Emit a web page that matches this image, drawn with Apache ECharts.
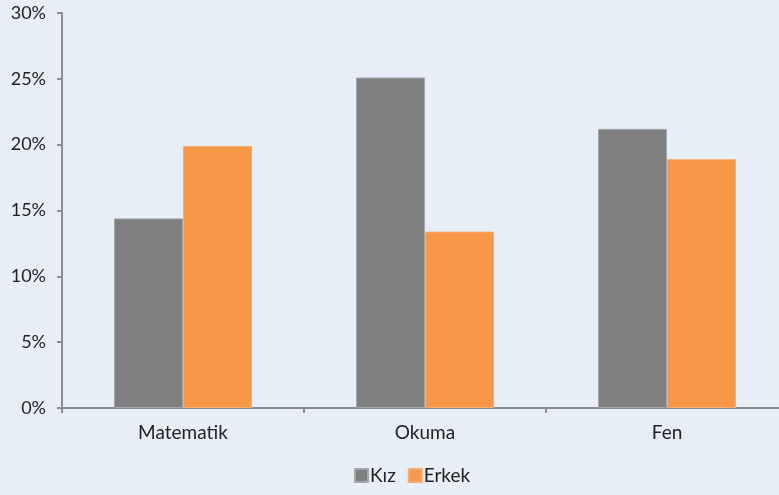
<!DOCTYPE html>
<html>
<head>
<meta charset="utf-8">
<script src="https://cdn.jsdelivr.net/npm/echarts@6/dist/echarts.min.js"></script>
<style>
  html, body { margin: 0; padding: 0; background: #e8eef6; }
  #main { width: 779px; height: 495px; }
</style>
</head>
<body>
<div id="main"></div>
<script>
var categories = ['Matematik', 'Okuma', 'Fen'];
var kiz = [14.4, 25.1, 21.2];
var erkek = [19.9, 13.4, 18.9];

var myChart = echarts.init(document.getElementById('main'));

var textFont = 'Lato, sans-serif';

var option = {
    backgroundColor: '#e8eef6',
    animation: false,
    grid: { left: 62, width: 726, top: 13, bottom: 87, outerBoundsMode: 'none' },
    legend: {
        bottom: 5,
        left: 349,
        itemWidth: 13,
        itemHeight: 13,
        itemGap: 12,
        icon: 'rect',
        textStyle: { fontFamily: textFont, fontSize: 19, color: '#222', padding: [0, 0, 0, -3] },
        data: ['Kız', 'Erkek']
    },
    xAxis: {
        type: 'category',
        data: categories,
        axisLine: { lineStyle: { color: '#8c8c8c', width: 2 } },
        axisTick: { show: true, alignWithLabel: false, length: 5, lineStyle: { color: '#8c8c8c', width: 2 } },
        axisLabel: { margin: 15, fontFamily: textFont, fontSize: 19, color: '#222' }
    },
    yAxis: {
        type: 'value',
        min: 0,
        max: 30,
        interval: 5,
        splitLine: { show: false },
        axisLine: { show: true, lineStyle: { color: '#8c8c8c', width: 2 } },
        axisTick: { show: true, length: 5, lineStyle: { color: '#8c8c8c', width: 2 } },
        axisLabel: { margin: 16, fontFamily: textFont, fontSize: 18, color: '#222', formatter: '{value}%' }
    },
    series: [
        {
            name: 'Kız',
            type: 'bar',
            data: kiz,
            barWidth: '28.5%',
            barGap: '0%',
            itemStyle: { color: '#7f7f7f', borderColor: '#a3a6ab', borderWidth: 1 }
        },
        {
            name: 'Erkek',
            type: 'bar',
            data: erkek,
            barWidth: '28.5%',
            itemStyle: { color: '#f79748', borderColor: '#f5ad72', borderWidth: 1 }
        }
    ]
};

myChart.setOption(option);
</script>
</body>
</html>
